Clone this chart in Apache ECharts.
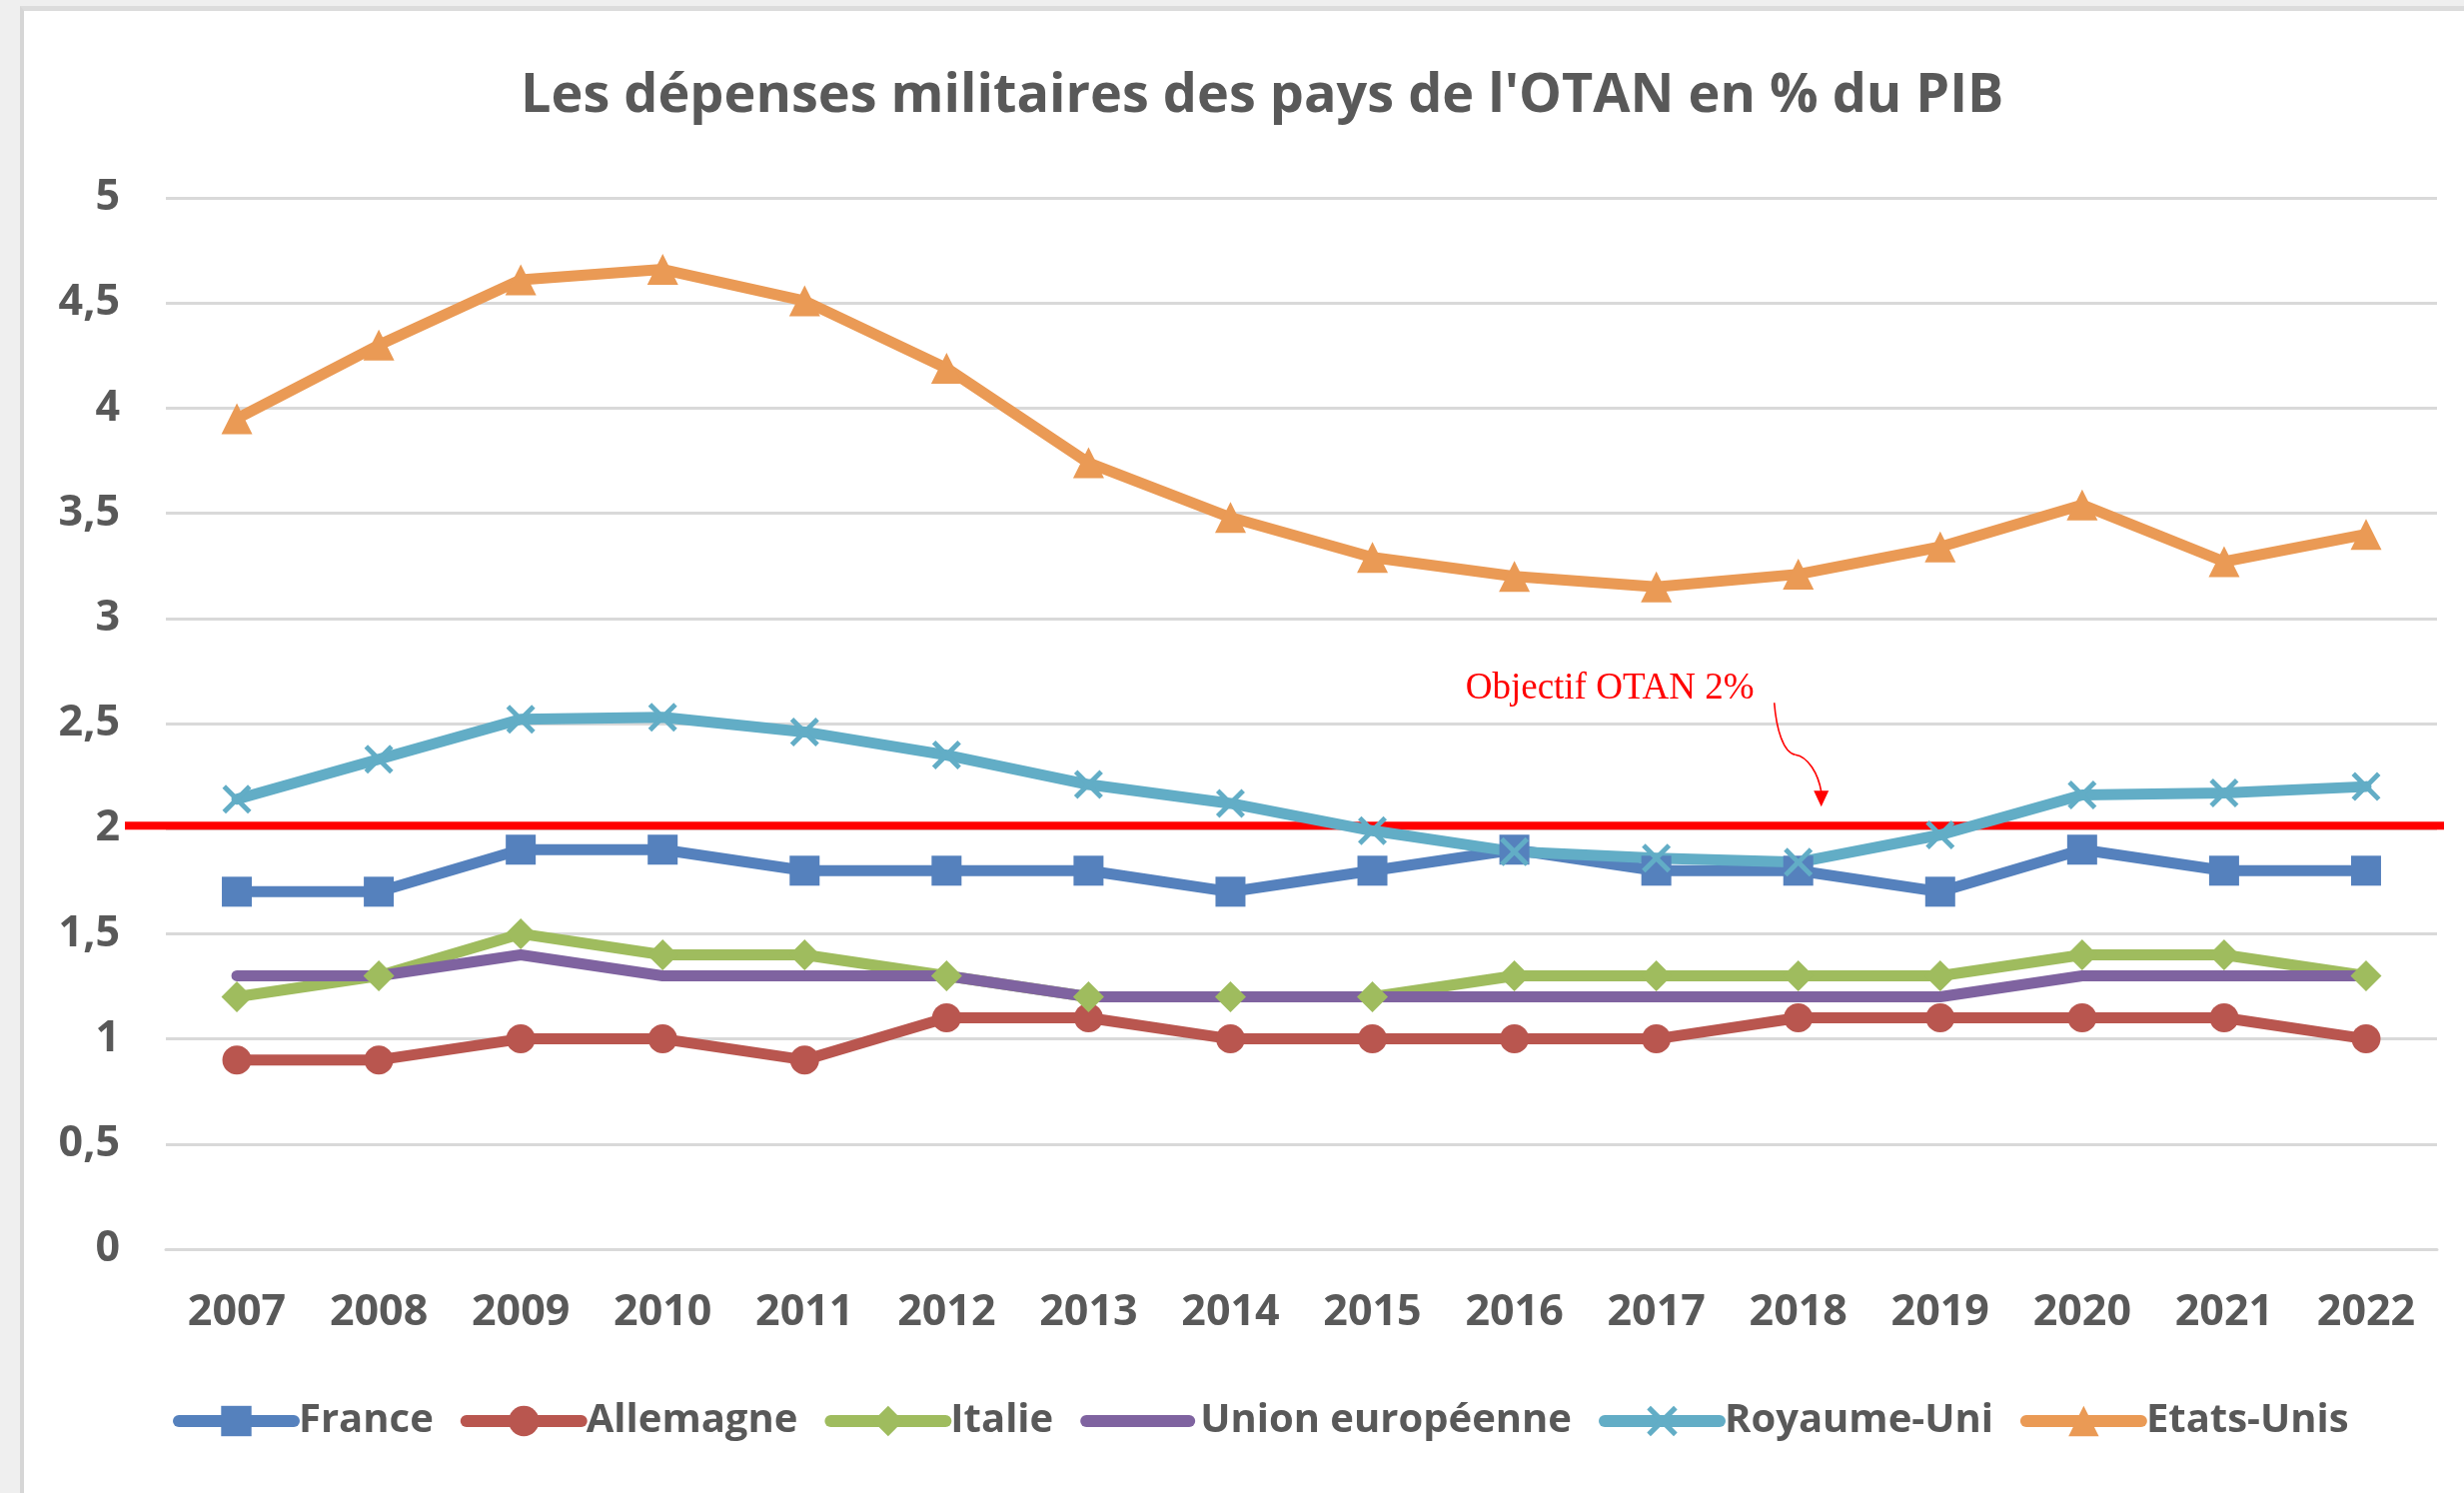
<!DOCTYPE html>
<html>
<head>
<meta charset="utf-8">
<title>Dépenses militaires OTAN</title>
<script src="https://cdn.jsdelivr.net/npm/echarts@6/dist/echarts.min.js"></script>
<style>
  html, body { margin: 0; padding: 0; width: 2466px; height: 1494px; background: #efefef; overflow: hidden; }
  /* cadre gris autour du graphique */
  #cadre { position: absolute; left: 20px; top: 6px; right: 0; bottom: 0; background: #fff;
           border-left: 4px solid #d6d6d6; border-top: 5px solid #dcdcdc; }
  #chart { position: absolute; left: 0; top: 0; width: 2466px; height: 1494px; }
</style>
</head>
<body>
<div id="cadre"></div>
<div id="chart"></div>
<script>
// années (axe x)
const annees = ['2007', '2008', '2009', '2010', '2011', '2012', '2013', '2014',
                '2015', '2016', '2017', '2018', '2019', '2020', '2021', '2022'];

// dépenses militaires en % du PIB
const france          = [1.7, 1.7, 1.9, 1.9, 1.8, 1.8, 1.8, 1.7, 1.8, 1.9, 1.8, 1.8, 1.7, 1.9, 1.8, 1.8];
const allemagne       = [0.9, 0.9, 1.0, 1.0, 0.9, 1.1, 1.1, 1.0, 1.0, 1.0, 1.0, 1.1, 1.1, 1.1, 1.1, 1.0];
const italie          = [1.2, 1.3, 1.5, 1.4, 1.4, 1.3, 1.2, 1.2, 1.2, 1.3, 1.3, 1.3, 1.3, 1.4, 1.4, 1.3];
const unionEuropeenne = [1.3, 1.3, 1.4, 1.3, 1.3, 1.3, 1.2, 1.2, 1.2, 1.2, 1.2, 1.2, 1.2, 1.3, 1.3, 1.3];
const royaumeUni      = [2.14, 2.33, 2.52, 2.53, 2.46, 2.35, 2.21, 2.12, 1.99, 1.89, 1.86, 1.84, 1.97, 2.16, 2.17, 2.20];
const etatsUnis       = [3.95, 4.30, 4.61, 4.66, 4.51, 4.19, 3.74, 3.48, 3.29, 3.20, 3.15, 3.21, 3.34, 3.54, 3.27, 3.40];

// graduations de l'axe y (virgule décimale)
const yGraduations = ['0', '0,5', '1', '1,5', '2', '2,5', '3', '3,5', '4', '4,5', '5'];

// objectif OTAN
const objectifOtan = 2;
const objectifTexte = 'Objectif OTAN 2%';

const gris = '#595959';
const police = '"Open Sans", sans-serif';

// marqueur "x" façon Excel
const croix = 'path://M0,1.2L1.2,0L5,3.8L8.8,0L10,1.2L6.2,5L10,8.8L8.8,10L5,6.2L1.2,10L0,8.8L3.8,5Z';

function serie(nom, data, couleur, symbole, taille) {
    return {
        name: nom,
        type: 'line',
        data: data,
        symbol: symbole,
        symbolSize: taille,
        showSymbol: symbole !== 'none',
        lineStyle: { color: couleur, width: 11, cap: 'round', join: 'round' },
        itemStyle: { color: couleur },
        emphasis: { disabled: true }
    };
}

let myChart = echarts.init(document.getElementById('chart'), null, { renderer: 'canvas' });

myChart.setOption({
    animation: false,
    backgroundColor: 'transparent',
    title: {
        text: 'Les dépenses militaires des pays de l\'OTAN en % du PIB',
        left: 516,
        top: 65,
        textStyle: { color: gris, fontSize: 54, fontWeight: 'bold', fontFamily: police, lineHeight: 54 }
    },
    legend: {
        left: 168,
        top: 1397,
        itemWidth: 115,
        itemHeight: 38,
        itemGap: 27,
        lineStyle: { width: 12, cap: 'round' },
        textStyle: { color: gris, fontSize: 40, fontWeight: 'bold', fontFamily: police },
        data: [
            'France', 'Allemagne', 'Italie',
            { name: 'Union européenne', icon: 'path://M6,0H109A6,6 0 0 1 109,12H6A6,6 0 0 1 6,0Z' },
            'Royaume-Uni', 'Etats-Unis'
        ]
    },
    grid: { left: 166, right: 27, top: 198, bottom: 244, containLabel: false, outerBoundsMode: 'none' },
    xAxis: {
        type: 'category',
        data: annees,
        boundaryGap: true,
        axisLine: { lineStyle: { color: '#d9d9d9', width: 3 } },
        axisTick: { show: false },
        axisLabel: { color: gris, fontSize: 43, fontWeight: 'bold', fontFamily: police, margin: 42, lineHeight: 43 }
    },
    yAxis: {
        type: 'value',
        min: 0,
        max: 5,
        interval: 0.5,
        axisLine: { show: false },
        axisTick: { show: false },
        splitLine: { lineStyle: { color: '#d9d9d9', width: 3 } },
        axisLabel: {
            color: gris, fontSize: 43, fontWeight: 'bold', fontFamily: police, margin: 46,
            formatter: function (v) { return yGraduations[Math.round(v * 2)]; }
        }
    },
    series: [
        serie('France', france, '#5581bd', 'rect', 30),
        serie('Allemagne', allemagne, '#b9564f', 'circle', 29),
        serie('Italie', italie, '#9fbc5e', 'diamond', 31),
        serie('Union européenne', unionEuropeenne, '#7f63a0', 'none', 0),
        serie('Royaume-Uni', royaumeUni, '#62adc6', croix, 29),
        serie('Etats-Unis', etatsUnis, '#ea9a55', 'triangle', 31)
    ]
});

// annotation : ligne rouge de l'objectif + texte + flèche
const ancre = myChart.convertToPixel({ gridIndex: 0 }, [annees.indexOf('2018'), objectifOtan]);
myChart.setOption({
    graphic: [
        {
            type: 'line',
            z: 1,
            shape: { x1: 125, y1: ancre[1] - 3, x2: 2446, y2: ancre[1] - 3 },
            style: { stroke: '#ff0000', lineWidth: 8 },
            silent: true
        },
        {
            type: 'group',
            x: ancre[0],
            y: ancre[1],
            z: 10,
            silent: true,
            children: [
                {
                    type: 'text',
                    x: -333,
                    y: -140,
                    style: {
                        text: objectifTexte,
                        fill: '#ff0000',
                        font: '37px "Liberation Serif", "Times New Roman", serif',
                        verticalAlign: 'middle',
                        align: 'left'
                    }
                },
                {
                    type: 'bezierCurve',
                    shape: { x1: -24, y1: -126, cpx1: -22, cpy1: -100, cpx2: -15, cpy2: -76, x2: -3, y2: -74 },
                    style: { stroke: '#ff0000', lineWidth: 1.6, fill: null }
                },
                {
                    type: 'bezierCurve',
                    shape: { x1: -3, y1: -74, cpx1: 10, cpy1: -72, cpx2: 20, cpy2: -55, x2: 23, y2: -37 },
                    style: { stroke: '#ff0000', lineWidth: 1.6, fill: null }
                },
                {
                    type: 'polygon',
                    shape: { points: [[15.5, -38], [30.5, -38], [23, -22]] },
                    style: { fill: '#ff0000' }
                }
            ]
        }
    ]
});
</script>
</body>
</html>
